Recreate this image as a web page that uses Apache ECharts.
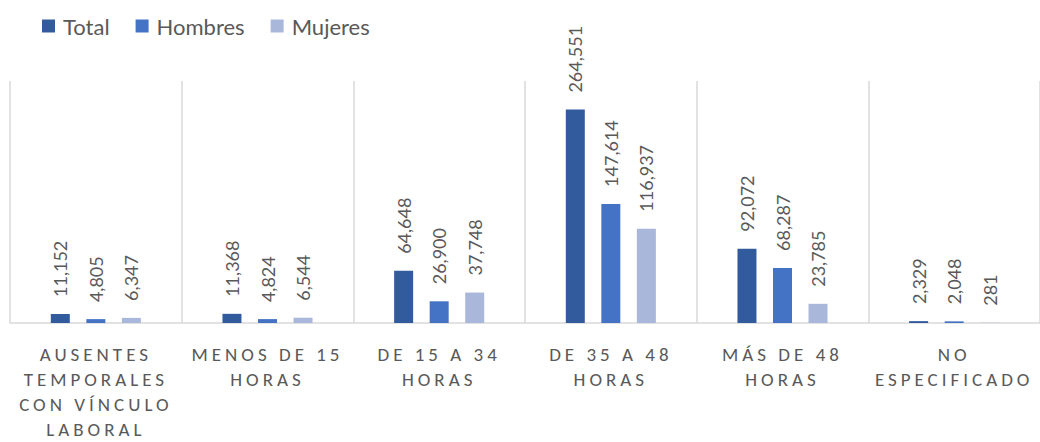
<!DOCTYPE html>
<html>
<head>
<meta charset="utf-8">
<script src="https://cdn.jsdelivr.net/npm/echarts@6/dist/echarts.min.js"></script>
<style>
    html, body { margin: 0; padding: 0; background: #fff; }
    #chart { width: 1040px; height: 442px; }
    /* espaciado de letras en las etiquetas del eje x */
    #chart text[style*="Calibri"] { letter-spacing: 4px; }
</style>
</head>
<body>
<div id="chart"></div>
<script>
// categorías (texto tal como aparece en el eje)
var categorias = [
    'AUSENTES\nTEMPORALES\nCON VÍNCULO\nLABORAL',
    'MENOS DE 15\nHORAS',
    'DE 15 A 34\nHORAS',
    'DE 35 A 48\nHORAS',
    'MÁS DE 48\nHORAS',
    'NO\nESPECIFICADO'
];
var total = [11152, 11368, 64648, 264551, 92072, 2329];
var hombres = [4805, 4824, 26900, 147614, 68287, 2048];
var mujeres = [6347, 6544, 37748, 116937, 23785, 281];

(function () {
    var myChart = echarts.init(document.getElementById('chart'), null, { renderer: 'svg' });

    // etiqueta de valor girada encima de cada barra
    var etiqueta = {
        show: true,
        position: 'top',
        rotate: 90,
        align: 'left',
        verticalAlign: 'middle',
        distance: 17,
        color: '#595959',
        fontFamily: 'Lato',
        fontSize: 18,
        formatter: function (p) {
            return p.value.toLocaleString('en-US');
        }
    };

    function serie(nombre, datos, color) {
        return {
            name: nombre,
            type: 'bar',
            data: datos,
            barWidth: 19,
            barGap: '87%',
            itemStyle: { color: color },
            label: etiqueta
        };
    }

    var option = {
        animation: false,
        legend: {
            left: 37,
            top: 10,
            itemWidth: 13,
            itemHeight: 13,
            itemGap: 26,
            icon: 'rect',
            textStyle: { color: '#595959', fontFamily: 'Lato', fontSize: 22, padding: [0, 0, 0, 3] },
            data: ['Total', 'Hombres', 'Mujeres']
        },
        grid: {
            left: 10,
            right: -2,
            top: 81,
            bottom: 114
        },
        xAxis: {
            type: 'category',
            data: categorias,
            axisTick: { show: false },
            axisLine: { lineStyle: { color: '#d9d9d9', width: 1.5 } },
            splitLine: { show: true, lineStyle: { color: '#d9d9d9', width: 1.5 } },
            axisLabel: {
                interval: 0,
                margin: 19,
                color: '#595959',
                fontFamily: 'Calibri, Lato',
                fontSize: 19,
                lineHeight: 25
            }
        },
        yAxis: {
            type: 'value',
            min: 0,
            max: 300000,
            show: false,
            splitLine: { show: false }
        },
        series: [
            serie('Total', total, '#325B9E'),
            serie('Hombres', hombres, '#4472C4'),
            serie('Mujeres', mujeres, '#A9B7DB')
        ]
    };

    myChart.setOption(option);
})();
</script>
</body>
</html>
